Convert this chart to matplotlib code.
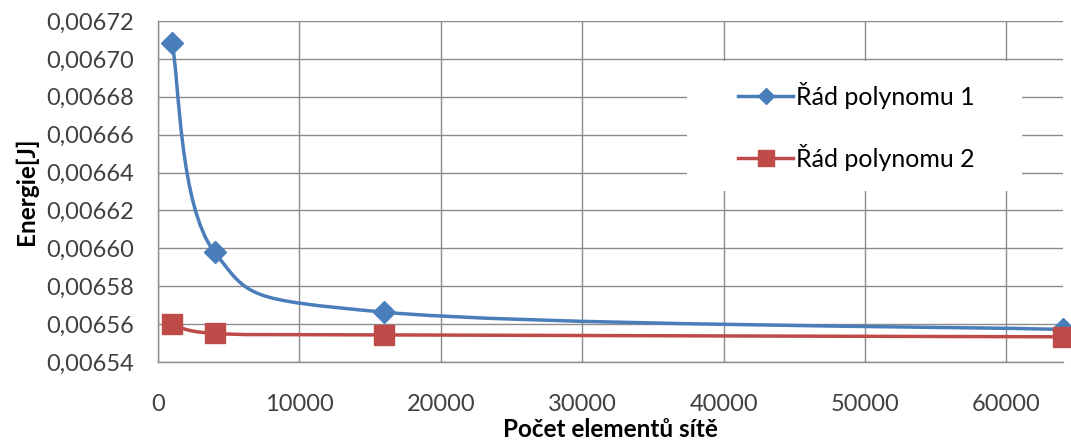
import matplotlib.pyplot as plt
from matplotlib.path import Path
from matplotlib.patches import PathPatch, Rectangle
from matplotlib.lines import Line2D
from matplotlib.ticker import FuncFormatter, MultipleLocator

plt.rcParams['font.family'] = ['Lato', 'DejaVu Sans']

# data
elements = [1000, 4000, 16000, 64000]
energy_p1 = [0.0067085, 0.0065980, 0.0065663, 0.0065572]
energy_p2 = [0.0065603, 0.0065551, 0.0065543, 0.0065533]
labels = ['Řád polynomu 1', 'Řád polynomu 2']

blue = '#4A7EBB'
red = '#BE4B48'
grid_col = '#8C8C8C'


def smooth_path(xs, ys):
    # Excel-like smoothed line: cardinal spline as cubic bezier segments
    pts = list(zip(xs, ys))
    n = len(pts)
    verts = [pts[0]]
    codes = [Path.MOVETO]
    for i in range(n - 1):
        p0 = pts[i - 1] if i > 0 else pts[i]
        p1 = pts[i]
        p2 = pts[i + 1]
        p3 = pts[i + 2] if i + 2 < n else pts[i + 1]
        c1 = (p1[0] + (p2[0] - p0[0]) / 6, p1[1] + (p2[1] - p0[1]) / 6)
        c2 = (p2[0] - (p3[0] - p1[0]) / 6, p2[1] - (p3[1] - p1[1]) / 6)
        verts += [c1, c2, p2]
        codes += [Path.CURVE4] * 3
    return Path(verts, codes)


fig = plt.figure(figsize=(10.71, 4.42), dpi=100)
ax = fig.add_axes([0.1475, 0.181, 0.845, 0.7715])

for ys, col, mk, ms in [(energy_p1, blue, 'D', 11), (energy_p2, red, 's', 14)]:
    ax.add_patch(PathPatch(smooth_path(elements, ys), facecolor='none',
                           edgecolor=col, lw=2.5, zorder=3, clip_on=False))
    ax.plot(elements, ys, ls='none', marker=mk, ms=ms, color=col, zorder=4, clip_on=False)

ax.set_xlim(0, 64000)
ax.set_ylim(0.00654, 0.00672)
ax.xaxis.set_major_locator(MultipleLocator(10000))
ax.yaxis.set_major_locator(MultipleLocator(0.00002))
ax.yaxis.set_major_formatter(FuncFormatter(lambda v, p: f'{v:.5f}'.replace('.', ',')))

ax.grid(True, color=grid_col, lw=1)
ax.set_axisbelow(True)
for s in ['top', 'right']:
    ax.spines[s].set_visible(False)
for s in ['left', 'bottom']:
    ax.spines[s].set_color(grid_col)
    ax.spines[s].set_linewidth(1)
ax.tick_params(length=0, labelsize=17, labelcolor='#404040')
ax.tick_params(axis='x', pad=23)
ax.tick_params(axis='y', pad=17)

ax.set_xlabel('Počet elementů sítě', fontsize=17.5, fontweight='bold', labelpad=2)
ax.set_ylabel('Energie[J]', fontsize=17.5, fontweight='bold', labelpad=6)

# white legend background, as in the original
ax.add_patch(Rectangle((0.5845, 0.5015), 0.370, 0.381, transform=ax.transAxes,
                       facecolor='white', edgecolor='none', zorder=2))

handles = [Line2D([], [], color=blue, lw=2.5, marker='D', ms=8),
           Line2D([], [], color=red, lw=2.5, marker='s', ms=12)]
leg = ax.legend(handles, labels, loc='center left', bbox_to_anchor=(0.641, 0.6906),
                fontsize=18, frameon=False, handlelength=2.2,
                handletextpad=0.12, labelspacing=1.4, borderpad=0, borderaxespad=0)

fig.savefig('out.png', dpi=100)
